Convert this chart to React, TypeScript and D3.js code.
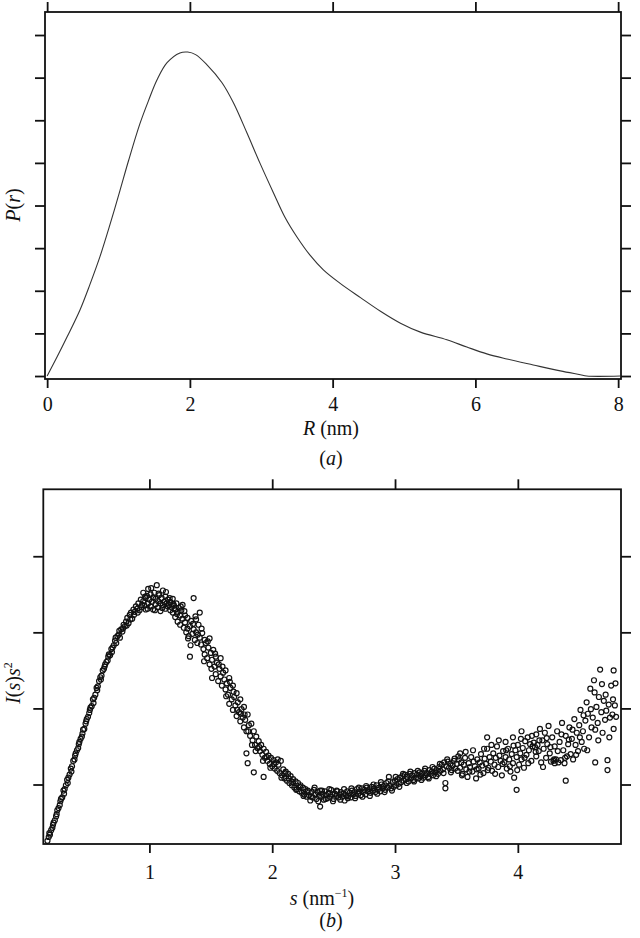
import React, { useEffect, useRef } from "react";
import * as d3 from "d3";

// panel (a): distance distribution P(r)
const rValues = [0.0, 0.14, 0.28, 0.46, 0.6, 0.74, 0.88, 1.02, 1.14, 1.3, 1.42, 1.54, 1.68, 1.86, 1.97, 2.08, 2.24, 2.45, 2.61, 2.8, 2.98, 3.17, 3.33, 3.5, 3.68, 3.87, 4.1, 4.39, 4.67, 4.95, 5.23, 5.6, 5.88, 6.16, 6.44, 6.81, 7.19, 7.47, 7.56, 8.03];
const prValues = [0.0, 0.45, 0.92, 1.55, 2.15, 2.8, 3.55, 4.35, 5.05, 5.92, 6.46, 6.95, 7.35, 7.58, 7.6, 7.54, 7.3, 6.88, 6.41, 5.7, 5.0, 4.3, 3.73, 3.26, 2.84, 2.49, 2.18, 1.84, 1.52, 1.24, 1.03, 0.85, 0.68, 0.52, 0.4, 0.26, 0.12, 0.03, 0.0, 0.0];
const rTicks = [0, 2, 4, 6, 8];
const prTicks = [0, 1, 2, 3, 4, 5, 6, 7, 8];

// panel (b): Kratky plot I(s)s^2 vs s, [s, I] pairs
const riseScatter: [number, number][] = [
  [0.17, 0.26], [0.18, 0.31], [0.19, 0.34], [0.2, 0.4], [0.21, 0.43], [0.22, 0.5], [0.23, 0.53], [0.24, 0.58],
  [0.25, 0.66], [0.26, 0.69], [0.27, 0.73], [0.28, 0.81], [0.29, 0.83], [0.3, 0.92], [0.31, 0.94], [0.32, 0.99],
  [0.33, 1.06], [0.34, 1.09], [0.35, 1.13], [0.36, 1.21], [0.37, 1.24], [0.38, 1.31], [0.39, 1.33], [0.4, 1.41],
  [0.41, 1.45], [0.42, 1.48], [0.43, 1.56], [0.44, 1.6], [0.45, 1.63], [0.46, 1.72], [0.47, 1.73], [0.48, 1.8],
  [0.49, 1.86], [0.5, 1.89], [0.51, 1.94], [0.52, 2.01], [0.53, 2.03], [0.54, 2.12], [0.55, 2.14], [0.56, 2.18],
  [0.57, 2.27], [0.58, 2.29], [0.59, 2.36], [0.6, 2.41], [0.61, 2.43], [0.62, 2.5], [0.63, 2.52], [0.64, 2.58],
  [0.65, 2.61], [0.66, 2.63], [0.67, 2.71], [0.68, 2.7], [0.69, 2.78], [0.7, 2.8], [0.71, 2.83], [0.72, 2.89],
  [0.73, 2.86], [0.74, 2.95], [0.75, 2.97], [0.76, 2.93], [0.77, 3.04], [0.78, 3.01], [0.79, 3.1], [0.8, 3.08],
  [0.81, 3.14], [0.82, 3.19], [0.83, 3.12], [0.84, 3.23], [0.85, 3.26], [0.86, 3.18], [0.87, 3.3], [0.88, 3.27],
  [0.89, 3.34], [0.9, 3.31], [0.91, 3.38], [0.92, 3.29], [0.93, 3.43], [0.94, 3.36],
  [0.185, 0.36], [0.215, 0.47], [0.245, 0.61], [0.275, 0.78], [0.305, 0.88], [0.335, 1.02], [0.365, 1.17],
  [0.395, 1.38], [0.425, 1.53], [0.455, 1.67], [0.485, 1.83], [0.515, 1.98], [0.545, 2.07], [0.575, 2.24],
  [0.605, 2.38], [0.635, 2.55], [0.665, 2.68], [0.695, 2.74], [0.725, 2.93], [0.755, 3.02], [0.785, 3.05],
  [0.815, 3.09], [0.845, 3.17], [0.875, 3.23], [0.905, 3.26], [0.935, 3.33],
];
const peakScatter: [number, number][] = [
  [0.95, 3.41], [0.95, 3.52], [0.96, 3.35], [0.97, 3.45], [0.97, 3.3], [0.98, 3.48], [0.99, 3.38], [0.99, 3.57],
  [1.0, 3.43], [1.01, 3.34], [1.01, 3.5], [1.02, 3.4], [1.03, 3.46], [1.03, 3.3], [1.04, 3.52], [1.05, 3.37],
  [1.05, 3.44], [1.06, 3.62], [1.07, 3.41], [1.07, 3.33], [1.08, 3.49], [1.09, 3.38], [1.09, 3.28], [1.1, 3.45],
  [1.11, 3.36], [1.11, 3.55], [1.12, 3.4], [1.13, 3.31], [1.13, 3.47], [1.14, 3.38], [1.15, 3.34], [1.15, 3.43],
  [1.16, 3.36], [1.17, 3.29], [1.17, 3.4], [1.18, 3.33], [1.19, 3.44], [1.19, 3.26], [1.2, 3.35], [1.21, 3.3],
  [1.21, 3.2], [1.22, 3.38], [1.23, 3.27], [1.23, 3.14], [1.24, 3.32], [1.25, 3.22], [1.25, 3.1], [1.26, 3.29],
  [1.27, 3.18], [1.27, 3.36], [1.28, 3.06], [1.29, 3.22], [1.29, 3.13], [1.3, 3.0], [1.31, 3.19], [1.31, 3.05],
  [0.965, 3.47], [0.985, 3.31], [1.015, 3.58], [1.045, 3.29], [1.075, 3.51], [1.105, 3.32], [1.135, 3.53],
  [1.165, 3.45], [1.195, 3.37], [1.225, 3.24], [1.255, 3.34], [1.285, 3.28], [1.315, 2.92],
];
const fallScatter: [number, number][] = [
  [1.32, 2.95], [1.33, 3.08], [1.33, 2.68], [1.34, 3.15], [1.35, 2.98], [1.36, 3.45], [1.36, 3.04], [1.37, 2.9],
  [1.38, 3.17], [1.38, 3.0], [1.39, 2.86], [1.4, 3.1], [1.41, 2.93], [1.41, 3.26], [1.42, 2.84], [1.43, 2.99],
  [1.44, 2.78], [1.45, 2.9], [1.45, 2.71], [1.46, 2.86], [1.47, 2.66], [1.48, 2.8], [1.49, 2.92], [1.49, 2.58],
  [1.5, 2.73], [1.51, 2.64], [1.51, 2.4], [1.52, 2.77], [1.53, 2.55], [1.54, 2.68], [1.54, 2.45], [1.55, 2.6],
  [1.56, 2.36], [1.57, 2.52], [1.58, 2.42], [1.58, 2.66], [1.59, 2.3], [1.6, 2.47], [1.61, 2.38], [1.62, 2.25],
  [1.62, 2.5], [1.63, 2.33], [1.64, 2.18], [1.65, 2.4], [1.65, 2.06], [1.66, 2.27], [1.67, 2.12], [1.68, 2.3],
  [1.68, 1.98], [1.69, 2.15], [1.7, 2.04], [1.71, 2.2], [1.71, 1.9], [1.72, 2.08], [1.73, 1.95], [1.74, 2.12],
  [1.74, 1.83], [1.75, 1.99], [1.76, 1.88], [1.77, 1.75], [1.77, 2.02], [1.78, 1.85], [1.79, 1.7], [1.79, 1.41],
  [1.8, 1.92], [1.8, 1.28], [1.81, 1.78], [1.82, 1.64], [1.83, 1.8], [1.84, 1.58], [1.85, 1.7], [1.85, 1.16],
  [1.86, 1.52], [1.87, 1.63], [1.88, 1.48], [1.89, 1.57], [1.9, 1.44], [1.91, 1.52], [1.92, 1.39], [1.93, 1.47],
  [1.93, 1.1], [1.94, 1.35], [1.95, 1.43], [1.96, 1.31], [1.97, 1.38], [1.98, 1.27], [1.99, 1.35], [2.0, 1.24],
  [2.01, 1.32], [2.02, 1.21], [2.03, 1.29], [2.04, 1.18], [2.05, 1.26], [2.06, 1.15], [2.07, 1.31], [2.08, 1.12],
  [2.09, 1.2], [2.1, 1.08], [2.11, 1.17], [2.12, 1.05], [2.13, 1.14], [2.14, 1.02], [2.15, 1.11], [2.16, 0.99],
  [2.17, 1.07], [2.18, 0.96], [2.19, 1.04], [2.2, 0.94], [2.21, 1.02], [2.22, 0.91], [2.23, 0.99], [2.24, 0.89],
  [2.25, 0.96], [2.26, 0.87], [2.27, 0.94], [2.28, 0.84], [2.29, 0.92], [2.3, 0.86], [2.31, 0.79],
  [1.335, 2.83], [1.355, 3.11], [1.375, 3.21], [1.395, 2.97], [1.425, 3.05], [1.445, 2.62], [1.475, 2.88],
  [1.505, 2.52], [1.535, 2.72], [1.565, 2.58], [1.595, 2.55], [1.625, 2.16], [1.655, 2.35], [1.685, 2.22],
  [1.715, 1.98], [1.745, 1.93], [1.775, 1.92], [1.805, 1.7], [1.835, 1.52], [1.865, 1.44], [1.895, 1.49],
  [1.925, 1.31], [1.955, 1.36], [1.985, 1.22], [2.015, 1.27], [2.045, 1.33], [2.075, 1.09], [2.105, 1.15],
  [2.135, 1.08], [2.165, 1.03], [2.195, 0.93], [2.225, 0.97], [2.255, 0.85], [2.285, 0.9],
];
const valleyScatter: [number, number][] = [
  [2.32, 0.9], [2.33, 0.83], [2.34, 0.93], [2.35, 0.87], [2.36, 0.81], [2.37, 0.9], [2.38, 0.85], [2.39, 0.71],
  [2.39, 0.92], [2.4, 0.84], [2.41, 0.88], [2.42, 0.8], [2.43, 0.91], [2.44, 0.86], [2.45, 0.82], [2.46, 0.89],
  [2.47, 0.84], [2.48, 0.93], [2.49, 0.87], [2.5, 0.81], [2.51, 0.88], [2.52, 0.85], [2.53, 0.91], [2.54, 0.83],
  [2.55, 0.87], [2.56, 0.9], [2.57, 0.84], [2.58, 0.88], [2.59, 0.79], [2.6, 0.86], [2.61, 0.91], [2.62, 0.85],
  [2.63, 0.89], [2.64, 0.83], [2.65, 0.92], [2.66, 0.87], [2.67, 0.9], [2.68, 0.85], [2.69, 0.94], [2.7, 0.88],
  [2.71, 0.91], [2.72, 0.86], [2.73, 0.95], [2.74, 0.9], [2.75, 0.93], [2.76, 0.87], [2.77, 0.96], [2.78, 0.91],
  [2.79, 0.94], [2.8, 0.89], [2.81, 0.97], [2.82, 0.92], [2.83, 0.95], [2.84, 0.9], [2.85, 0.99], [2.86, 0.93],
  [2.87, 0.96], [2.88, 0.91], [2.89, 1.0], [2.9, 0.95], [2.91, 0.98], [2.92, 0.93], [2.93, 1.02], [2.94, 0.96],
  [2.95, 1.1], [2.96, 0.99], [2.97, 0.95], [2.98, 1.03], [2.99, 0.97], [3.0, 1.05], [3.01, 0.99], [3.02, 1.07],
  [3.03, 1.01], [3.04, 1.09], [3.05, 1.03], [3.06, 1.11], [3.07, 1.05], [3.08, 1.13], [3.09, 1.07], [3.1, 1.1],
  [3.11, 1.04], [3.12, 1.14], [3.13, 1.08], [3.14, 1.12], [3.15, 1.06], [3.16, 1.15], [3.17, 1.09], [3.18, 1.13],
  [3.19, 1.08], [3.2, 1.16], [3.21, 1.11], [3.22, 1.14], [3.23, 1.09], [3.24, 1.18], [3.25, 1.12], [3.26, 1.15],
  [3.27, 1.1], [3.28, 1.19], [3.29, 1.14], [3.3, 1.17], [3.31, 1.12], [3.32, 1.21], [3.33, 1.16], [3.34, 1.19],
  [3.35, 1.14], [3.36, 1.23], [3.37, 1.18], [3.38, 1.26], [3.39, 1.2], [3.4, 1.29], [3.41, 0.95], [3.41, 1.02],
  [3.42, 1.24], [3.43, 1.3], [3.44, 1.22], [3.45, 1.27], [3.46, 1.19], [3.47, 1.25], [3.48, 1.31], [3.49, 1.21],
  [3.5, 1.27],
  [2.315, 0.84], [2.345, 0.96], [2.375, 0.78], [2.405, 0.92], [2.435, 0.81], [2.465, 0.94], [2.495, 0.78],
  [2.525, 0.92], [2.555, 0.8], [2.585, 0.94], [2.615, 0.82], [2.645, 0.95], [2.675, 0.82], [2.705, 0.96],
  [2.735, 0.84], [2.765, 0.98], [2.795, 0.85], [2.825, 1.0], [2.855, 0.88], [2.885, 1.03], [2.915, 0.9],
  [2.945, 1.04], [2.975, 0.92], [3.005, 1.1], [3.035, 0.97], [3.065, 1.14], [3.095, 1.02], [3.125, 1.17],
  [3.155, 1.04], [3.185, 1.18], [3.215, 1.06], [3.245, 1.21], [3.275, 1.08], [3.305, 1.23], [3.335, 1.11],
  [3.365, 1.27], [3.395, 1.15], [3.425, 1.33], [3.455, 1.16], [3.485, 1.34],
];
const tailScatter: [number, number][] = [
  [3.51, 1.18], [3.52, 1.33], [3.53, 1.41], [3.53, 1.22], [3.54, 1.29], [3.55, 1.14], [3.56, 1.26], [3.57, 1.35],
  [3.58, 1.2], [3.59, 1.1], [3.6, 1.28], [3.61, 1.23], [3.62, 1.36], [3.63, 1.17], [3.64, 1.3], [3.65, 1.24],
  [3.66, 1.08], [3.67, 1.33], [3.68, 1.21], [3.69, 1.29], [3.7, 1.4], [3.71, 1.25], [3.72, 1.15], [3.73, 1.34],
  [3.74, 1.27], [3.75, 1.47], [3.75, 1.62], [3.76, 1.22], [3.77, 1.36], [3.78, 1.3], [3.79, 1.18], [3.8, 1.41],
  [3.81, 1.26], [3.82, 1.35], [3.83, 1.5], [3.84, 1.23], [3.85, 1.38], [3.86, 1.31], [3.87, 1.12], [3.88, 1.44],
  [3.89, 1.29], [3.9, 1.56], [3.9, 1.36], [3.91, 1.21], [3.92, 1.47], [3.93, 1.33], [3.94, 1.17], [3.95, 1.4],
  [3.96, 1.62], [3.96, 1.28], [3.97, 1.09], [3.98, 1.45], [3.99, 0.93], [3.99, 1.36], [4.0, 1.52], [4.01, 1.26],
  [4.02, 1.41], [4.03, 1.7], [4.03, 1.33], [4.04, 1.48], [4.05, 1.22], [4.06, 1.57], [4.07, 1.39], [4.08, 1.62],
  [4.09, 1.45], [4.1, 1.53], [4.11, 1.31], [4.12, 1.5], [4.13, 1.55], [4.14, 1.49], [4.15, 1.66], [4.15, 1.37],
  [4.16, 1.52], [4.17, 1.44], [4.18, 1.73], [4.19, 1.29], [4.2, 1.58], [4.21, 1.47], [4.22, 1.68], [4.23, 1.35],
  [4.24, 1.53], [4.25, 1.77], [4.26, 1.41], [4.27, 1.3], [4.28, 1.62], [4.29, 1.31], [4.3, 1.28], [4.3, 1.5],
  [4.31, 1.33], [4.32, 1.7], [4.33, 1.29], [4.34, 1.56], [4.35, 1.32], [4.36, 1.81], [4.37, 1.45], [4.38, 1.28],
  [4.39, 1.05], [4.39, 1.64], [4.4, 1.37], [4.41, 1.53], [4.42, 1.75], [4.43, 1.4], [4.44, 1.6], [4.45, 1.33],
  [4.46, 1.86], [4.47, 1.52], [4.48, 1.68], [4.49, 1.44], [4.5, 1.78], [4.51, 1.98], [4.52, 1.56], [4.53, 1.7],
  [4.54, 1.47], [4.55, 1.84], [4.56, 2.08], [4.57, 1.93], [4.58, 1.62], [4.59, 2.26], [4.6, 1.75], [4.61, 1.88],
  [4.62, 2.37], [4.63, 1.29], [4.63, 1.72], [4.64, 2.02], [4.65, 1.81], [4.66, 2.15], [4.67, 2.51], [4.68, 1.95],
  [4.69, 1.68], [4.7, 2.1], [4.71, 1.85], [4.72, 1.97], [4.73, 1.19], [4.73, 1.32], [4.74, 2.05], [4.75, 1.88],
  [4.76, 2.3], [4.77, 1.92], [4.78, 2.5], [4.78, 1.73], [4.79, 2.04], [4.8, 1.89],
  [3.515, 1.37], [3.545, 1.12], [3.575, 1.43], [3.605, 1.17], [3.635, 1.45], [3.665, 1.2], [3.695, 1.13],
  [3.725, 1.47], [3.755, 1.19], [3.785, 1.52], [3.815, 1.14], [3.845, 1.58], [3.875, 1.27], [3.905, 1.45],
  [3.935, 1.24], [3.965, 1.51], [3.995, 1.19], [4.025, 1.6], [4.055, 1.35], [4.085, 1.28], [4.115, 1.64],
  [4.145, 1.43], [4.175, 1.58], [4.205, 1.23], [4.235, 1.61], [4.265, 1.49], [4.295, 1.33], [4.325, 1.44],
  [4.355, 1.66], [4.385, 1.35], [4.415, 1.59], [4.445, 1.72], [4.475, 1.39], [4.505, 1.62], [4.535, 1.91],
  [4.565, 1.45], [4.595, 1.99], [4.625, 2.21], [4.655, 1.58], [4.685, 2.32], [4.715, 2.18], [4.745, 1.62],
  [4.775, 2.12], [4.795, 2.33],
];
const sTicks = [1, 2, 3, 4];
const intensityTicks = [1, 2, 3, 4];

const FONT = '"Liberation Serif", "DejaVu Serif", "Times New Roman", serif';
const INK = "#111";

function drawFrame(root, x, y, xTicks, yTicks, labelPad) {
  const [x0, x1] = x.range();
  const [y0, y1] = y.range();
  const g = root.append("g").attr("color", INK);

  g.append("rect")
    .attr("x", x0).attr("y", y1)
    .attr("width", x1 - x0).attr("height", y0 - y1)
    .attr("fill", "none").attr("stroke", INK).attr("stroke-width", 1.8);

  g.append("g").attr("transform", `translate(0,${y0})`)
    .call(d3.axisBottom(x).tickValues(xTicks).tickSize(9).tickPadding(labelPad).tickFormat(d3.format("d")));
  g.append("g").attr("transform", `translate(0,${y1})`)
    .call(d3.axisTop(x).tickValues(xTicks).tickSize(10).tickFormat(() => ""));
  g.append("g").attr("transform", `translate(${x0},0)`)
    .call(d3.axisLeft(y).tickValues(yTicks).tickSize(10).tickFormat(() => ""));
  g.append("g").attr("transform", `translate(${x1},0)`)
    .call(d3.axisRight(y).tickValues(yTicks).tickSize(10).tickFormat(() => ""));

  g.selectAll(".domain").remove();
  g.selectAll(".tick line").attr("stroke-width", 1.8);
  g.selectAll("g").attr("font-family", null);
  g.selectAll(".tick text")
    .style("font-family", FONT)
    .style("font-size", "20px")
    .style("fill", INK);
}

export default function App() {
  const ref = useRef<SVGGElement>(null);

  useEffect(() => {
    const root = d3.select(ref.current);
    root.selectAll("*").remove();

    // (a) P(r)
    const xA = d3.scaleLinear().domain([-0.03, 8.04]).range([45, 621]);
    const yA = d3.scaleLinear().domain([-0.07, 8.54]).range([379, 12]);
    drawFrame(root, xA, yA, rTicks, prTicks, 9);

    const line = d3.line<number>()
      .x((d, i) => xA(rValues[i]))
      .y((d) => yA(d))
      .curve(d3.curveCatmullRom.alpha(0.5));
    root.append("path")
      .datum(prValues)
      .attr("d", line)
      .attr("fill", "none")
      .attr("stroke", "#333")
      .attr("stroke-width", 1.1);

    // (b) I(s)s^2
    const xB = d3.scaleLinear().domain([0.136, 4.84]).range([43.3, 621]);
    const yB = d3.scaleLinear().domain([0.218, 4.88]).range([844, 489.3]);
    drawFrame(root, xB, yB, sTicks, intensityTicks, 12);

    const points = [...riseScatter, ...peakScatter, ...fallScatter, ...valleyScatter, ...tailScatter];
    root.append("g")
      .selectAll("circle")
      .data(points)
      .enter()
      .append("circle")
      .attr("cx", (d) => xB(d[0]))
      .attr("cy", (d) => yB(d[1]))
      .attr("r", 2.5)
      .attr("fill", "none")
      .attr("stroke", INK)
      .attr("stroke-width", 1.2);
  }, []);

  const txt = { style: { fontFamily: FONT, fontSize: 20 }, fill: INK };

  return (
    <svg width={640} height={938} style={{ position: "absolute", left: 0, top: 0, background: "#fff" }}>
      <g ref={ref} />
      <text x={331} y={435} textAnchor="middle" {...txt}>
        <tspan fontStyle="italic">R</tspan> (nm)
      </text>
      <text x={331} y={465} textAnchor="middle" {...txt}>
        (<tspan fontStyle="italic">a</tspan>)
      </text>
      <text transform="translate(20,205) rotate(-90)" textAnchor="middle" {...txt}>
        <tspan fontStyle="italic">P</tspan>(<tspan fontStyle="italic">r</tspan>)
      </text>
      <text x={322} y={905} textAnchor="middle" {...txt}>
        <tspan fontStyle="italic">s</tspan> (nm<tspan fontSize={12} dy={-8}>−1</tspan><tspan dy={8}>)</tspan>
      </text>
      <text x={331} y={927} textAnchor="middle" {...txt}>
        (<tspan fontStyle="italic">b</tspan>)
      </text>
      <text transform="translate(20,683) rotate(-90)" textAnchor="middle" {...txt}>
        <tspan fontStyle="italic">I</tspan>(<tspan fontStyle="italic">s</tspan>)<tspan fontStyle="italic">s</tspan><tspan fontSize={12} dy={-8}>2</tspan>
      </text>
    </svg>
  );
}
